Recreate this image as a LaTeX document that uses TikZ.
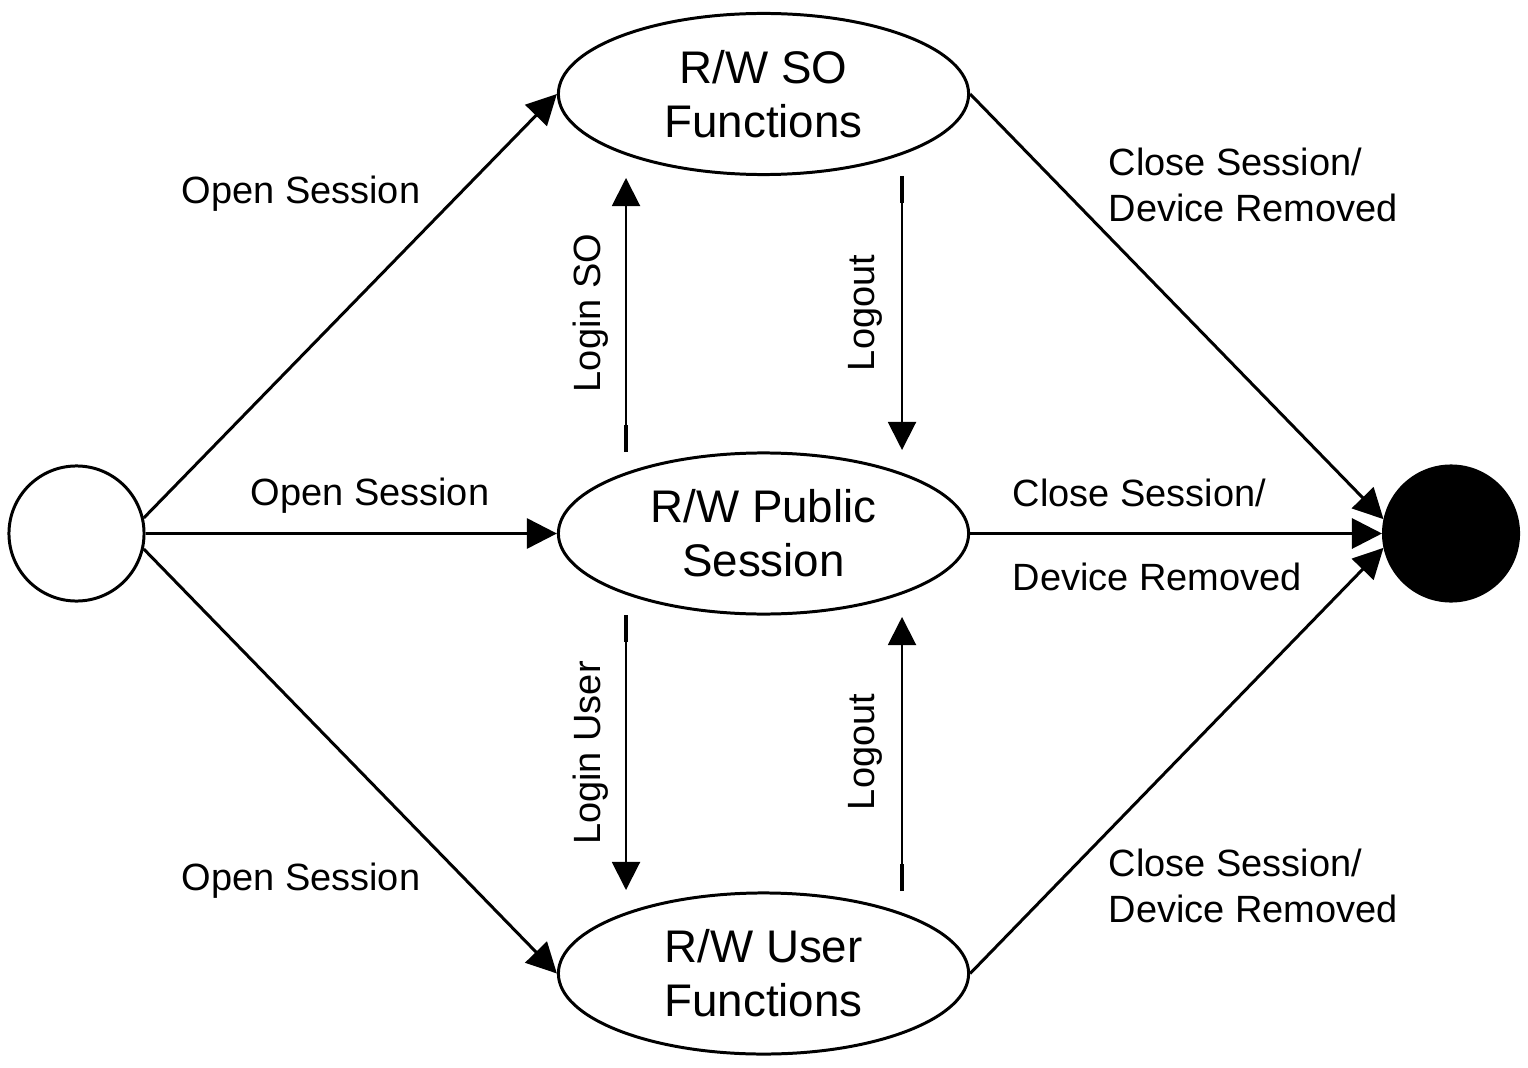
\documentclass[tikz,border=0pt]{standalone}
\usepackage{fontspec}
\setmainfont{Liberation Sans}
\usetikzlibrary{shapes.geometric,arrows.meta}

\begin{document}
\begin{tikzpicture}[x=0.01cm,y=-0.01cm,
    state/.style={draw, ellipse, line width=0.85pt, minimum width=4.1cm, minimum height=1.61cm,
                  inner sep=0pt, align=center, font=\fontsize{13}{15.4}\selectfont},
    pseudo/.style={draw, circle, line width=0.85pt, minimum size=1.35cm, inner sep=0pt},
    trans/.style={line width=0.85pt, -{Triangle[length=0.3cm,width=0.3cm]}},
    vtrans/.style={line width=0.55pt, -{Triangle[length=0.28cm,width=0.28cm]}},
    tailtick/.style={line width=1.3pt},
    lbl/.style={font=\fontsize{10.8}{13}\selectfont, inner sep=0pt, align=left}]

            \useasboundingbox (0,0) rectangle (1528,1067);

            % states
            \node[pseudo] (start) at (76.5,533.5) {};
            \node[pseudo, fill=black] (stop) at (1451,533.5) {};

            \node[state] (so) at (763.5,94) {R/W SO\\Functions};
            \node[state] (pub) at (763.5,533.5) {R/W Public\\Session};
            \node[state] (user) at (763.5,973.5) {R/W User\\Functions};

            % open session
            \draw[trans] (start.13) -- (so.west);
            \draw[trans] (start.east) -- (pub.west);
            \draw[trans] (start.-13) -- (user.west);

            \node[lbl, anchor=west] (open1) at (181,194) {Open Session};
            \node[lbl, anchor=west] (open2) at (250,496) {Open Session};
            \node[lbl, anchor=west] (open3) at (181,881) {Open Session};

            % close session
            \draw[trans] (so.east) -- (stop.168);
            \draw[trans] (pub.east) -- (stop.west);
            \draw[trans] (user.east) -- (stop.192);

            \node[lbl, anchor=west] (close1) at (1108,185) {Close Session/\\Device Removed};
            \node[lbl, anchor=west] (close2a) at (1012,493) {Close Session/};
            \node[lbl, anchor=west] (close2b) at (1012,577) {Device Removed};
            \node[lbl, anchor=west] (close3) at (1108,886) {Close Session/\\Device Removed};

            % login / logout
            \coordinate (lso0) at (626,452);
            \coordinate (lso1) at (626,178);
            \coordinate (lgo0) at (902,176);
            \coordinate (lgo1) at (902,450);
            \coordinate (lus0) at (626,615);
            \coordinate (lus1) at (626,890);
            \coordinate (lgu0) at (902,891);
            \coordinate (lgu1) at (902,617);

            \draw[vtrans] (lso0) -- (lso1);
            \draw[vtrans] (lgo0) -- (lgo1);
            \draw[vtrans] (lus0) -- (lus1);
            \draw[vtrans] (lgu0) -- (lgu1);

            \draw[tailtick] (lso0) -- ++(0,-27);
            \draw[tailtick] (lgo0) -- ++(0,27);
            \draw[tailtick] (lus0) -- ++(0,27);
            \draw[tailtick] (lgu0) -- ++(0,-27);

            \node[lbl, rotate=90] (loginso) at (591,313) {Login SO};
            \node[lbl, rotate=90] (logout1) at (865,313) {Logout};
            \node[lbl, rotate=90] (loginuser) at (591,753) {Login User};
            \node[lbl, rotate=90] (logout2) at (865,752) {Logout};

\end{tikzpicture}
\end{document}
